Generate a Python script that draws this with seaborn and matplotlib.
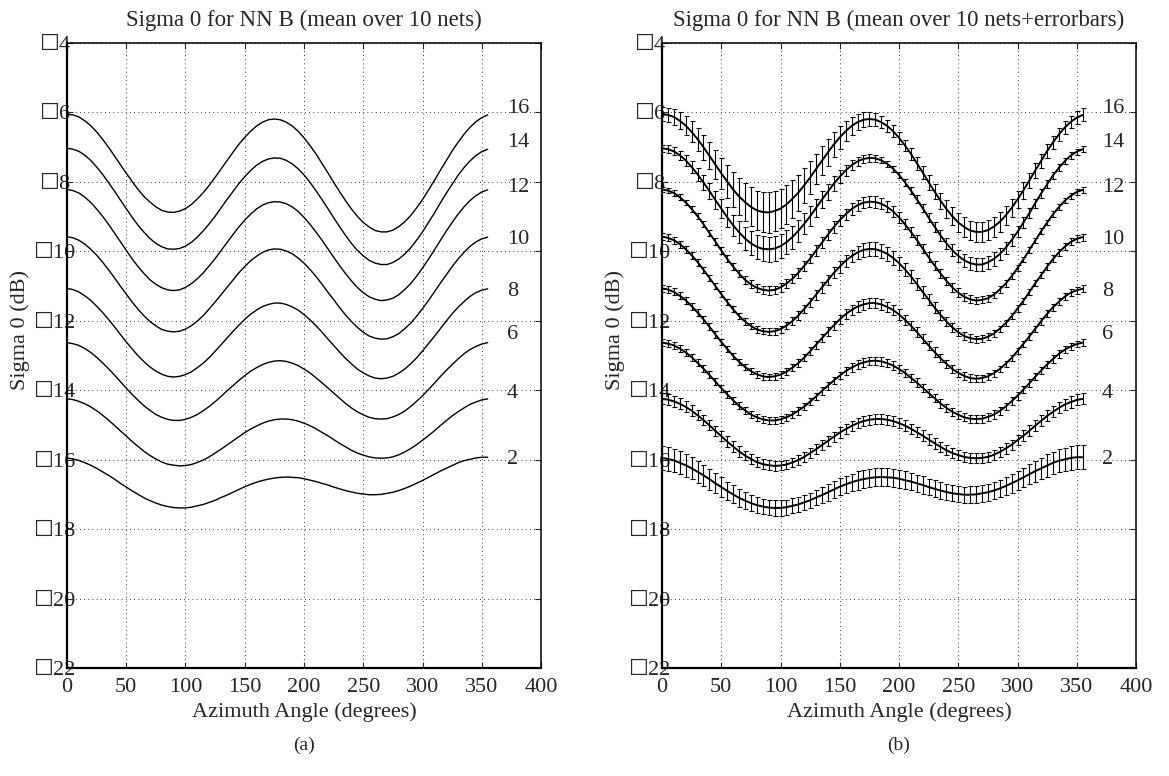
import numpy as np
import pandas as pd
import matplotlib
matplotlib.use('Agg')
import matplotlib.pyplot as plt
import seaborn as sns

#------------------------DATA (dB)----------------------------------------------------------------
speeds = [2, 4, 6, 8, 10, 12, 14, 16]
azimuth = list(range(0, 360, 5))

mean_2 = [-15.95, -15.98, -16.02, -16.09, -16.16, -16.25, -16.35, -16.45, -16.56, -16.68, -16.79, -16.90,
          -17.00, -17.10, -17.18, -17.25, -17.31, -17.35, -17.38, -17.39, -17.39, -17.37, -17.33, -17.29,
          -17.23, -17.17, -17.09, -17.02, -16.94, -16.86, -16.78, -16.71, -16.65, -16.60, -16.56, -16.53,
          -16.51, -16.50, -16.51, -16.52, -16.55, -16.59, -16.63, -16.68, -16.73, -16.79, -16.84, -16.89,
          -16.93, -16.97, -16.99, -17.01, -17.01, -17.00, -16.97, -16.94, -16.89, -16.83, -16.76, -16.68,
          -16.60, -16.51, -16.42, -16.33, -16.25, -16.17, -16.09, -16.03, -15.99, -15.95, -15.93, -15.93]
mean_4 = [-14.25, -14.27, -14.32, -14.39, -14.48, -14.59, -14.72, -14.86, -15.01, -15.17, -15.32, -15.48,
          -15.62, -15.76, -15.88, -15.98, -16.07, -16.13, -16.16, -16.18, -16.17, -16.14, -16.08, -16.01,
          -15.92, -15.81, -15.70, -15.58, -15.46, -15.34, -15.22, -15.12, -15.03, -14.95, -14.89, -14.85,
          -14.83, -14.83, -14.85, -14.89, -14.95, -15.02, -15.11, -15.21, -15.31, -15.42, -15.53, -15.63,
          -15.73, -15.81, -15.87, -15.92, -15.95, -15.96, -15.95, -15.92, -15.86, -15.78, -15.68, -15.57,
          -15.44, -15.31, -15.17, -15.02, -14.88, -14.74, -14.62, -14.51, -14.41, -14.34, -14.28, -14.25]
mean_6 = [-12.63, -12.66, -12.71, -12.80, -12.91, -13.05, -13.21, -13.38, -13.56, -13.75, -13.94, -14.12,
          -14.29, -14.45, -14.58, -14.70, -14.78, -14.84, -14.87, -14.87, -14.84, -14.78, -14.70, -14.59,
          -14.47, -14.33, -14.18, -14.02, -13.87, -13.72, -13.58, -13.45, -13.35, -13.26, -13.20, -13.16,
          -13.15, -13.17, -13.22, -13.29, -13.39, -13.50, -13.64, -13.78, -13.93, -14.08, -14.23, -14.38,
          -14.51, -14.62, -14.71, -14.78, -14.82, -14.83, -14.82, -14.77, -14.70, -14.60, -14.47, -14.32,
          -14.16, -13.98, -13.80, -13.61, -13.43, -13.26, -13.10, -12.95, -12.83, -12.74, -12.67, -12.63]
mean_8 = [-11.07, -11.10, -11.17, -11.28, -11.41, -11.58, -11.76, -11.96, -12.17, -12.39, -12.61, -12.81,
          -13.01, -13.18, -13.33, -13.45, -13.54, -13.60, -13.62, -13.60, -13.55, -13.47, -13.35, -13.22,
          -13.06, -12.88, -12.69, -12.50, -12.31, -12.13, -11.96, -11.81, -11.69, -11.59, -11.53, -11.49,
          -11.49, -11.53, -11.60, -11.69, -11.82, -11.97, -12.14, -12.32, -12.52, -12.71, -12.90, -13.08,
          -13.24, -13.39, -13.50, -13.59, -13.65, -13.67, -13.65, -13.60, -13.51, -13.39, -13.24, -13.07,
          -12.87, -12.66, -12.45, -12.23, -12.01, -11.80, -11.61, -11.45, -11.30, -11.19, -11.12, -11.08]
mean_10 = [-9.58, -9.61, -9.68, -9.79, -9.94, -10.11, -10.31, -10.53, -10.76, -11.00, -11.23, -11.46,
           -11.67, -11.86, -12.02, -12.15, -12.25, -12.30, -12.32, -12.30, -12.24, -12.14, -12.01, -11.85,
           -11.66, -11.46, -11.25, -11.04, -10.83, -10.62, -10.44, -10.27, -10.14, -10.03, -9.96, -9.93,
           -9.94, -9.99, -10.07, -10.19, -10.34, -10.52, -10.72, -10.94, -11.17, -11.39, -11.62, -11.83,
           -12.02, -12.19, -12.33, -12.44, -12.50, -12.53, -12.52, -12.46, -12.37, -12.23, -12.07, -11.87,
           -11.65, -11.42, -11.17, -10.92, -10.68, -10.44, -10.22, -10.03, -9.86, -9.73, -9.64, -9.59]
mean_12 = [-8.22, -8.25, -8.32, -8.44, -8.59, -8.78, -8.99, -9.22, -9.47, -9.72, -9.97, -10.22,
           -10.44, -10.64, -10.82, -10.95, -11.05, -11.11, -11.13, -11.11, -11.04, -10.93, -10.79, -10.62,
           -10.42, -10.21, -9.98, -9.75, -9.52, -9.30, -9.10, -8.93, -8.78, -8.67, -8.60, -8.57,
           -8.58, -8.63, -8.72, -8.85, -9.02, -9.22, -9.44, -9.67, -9.92, -10.17, -10.41, -10.64,
           -10.85, -11.04, -11.19, -11.31, -11.38, -11.42, -11.40, -11.35, -11.25, -11.10, -10.93, -10.72,
           -10.48, -10.23, -9.96, -9.69, -9.42, -9.17, -8.93, -8.72, -8.54, -8.40, -8.29, -8.23]
mean_14 = [-7.03, -7.06, -7.12, -7.23, -7.38, -7.57, -7.78, -8.02, -8.26, -8.52, -8.77, -9.02,
           -9.25, -9.45, -9.63, -9.77, -9.87, -9.93, -9.94, -9.92, -9.85, -9.74, -9.59, -9.41,
           -9.21, -8.99, -8.75, -8.51, -8.28, -8.05, -7.85, -7.67, -7.52, -7.41, -7.34, -7.31,
           -7.32, -7.38, -7.48, -7.62, -7.80, -8.01, -8.25, -8.50, -8.76, -9.03, -9.29, -9.54,
           -9.77, -9.97, -10.13, -10.26, -10.34, -10.38, -10.38, -10.32, -10.22, -10.08, -9.90, -9.68,
           -9.44, -9.17, -8.90, -8.61, -8.33, -8.07, -7.81, -7.59, -7.40, -7.24, -7.13, -7.06]
mean_16 = [-6.05, -6.07, -6.13, -6.24, -6.38, -6.56, -6.77, -7.00, -7.25, -7.50, -7.75, -7.99,
           -8.22, -8.42, -8.58, -8.72, -8.82, -8.87, -8.88, -8.84, -8.77, -8.65, -8.49, -8.31,
           -8.10, -7.87, -7.63, -7.39, -7.15, -6.92, -6.72, -6.54, -6.39, -6.28, -6.21, -6.19,
           -6.21, -6.28, -6.39, -6.54, -6.73, -6.95, -7.19, -7.46, -7.73, -8.01, -8.28, -8.54,
           -8.78, -8.99, -9.17, -9.30, -9.40, -9.44, -9.44, -9.39, -9.29, -9.15, -8.97, -8.75,
           -8.51, -8.24, -7.96, -7.67, -7.39, -7.11, -6.86, -6.63, -6.43, -6.27, -6.15, -6.07]

# half length of the error bars (dB), panel (b)
err_2 = [0.34, 0.34, 0.34, 0.33, 0.33, 0.32, 0.31, 0.30, 0.30, 0.29, 0.28, 0.27, 0.26, 0.25, 0.24, 0.24, 0.23, 0.22,
         0.22, 0.22, 0.22, 0.21, 0.22, 0.22, 0.22, 0.22, 0.23, 0.23, 0.24, 0.24, 0.25, 0.25, 0.25, 0.26, 0.26, 0.26,
         0.26, 0.26, 0.26, 0.26, 0.26, 0.26, 0.25, 0.25, 0.25, 0.24, 0.24, 0.24, 0.24, 0.23, 0.23, 0.23, 0.24, 0.24,
         0.24, 0.24, 0.25, 0.25, 0.26, 0.27, 0.28, 0.28, 0.29, 0.30, 0.31, 0.32, 0.32, 0.33, 0.33, 0.34, 0.34, 0.34]
err_4 = [0.16, 0.16, 0.16, 0.16, 0.16, 0.16, 0.15, 0.15, 0.15, 0.15, 0.15, 0.15, 0.15, 0.15, 0.14, 0.14, 0.14, 0.14,
         0.14, 0.14, 0.14, 0.14, 0.14, 0.14, 0.14, 0.14, 0.14, 0.14, 0.14, 0.14, 0.15, 0.15, 0.15, 0.15, 0.15, 0.15,
         0.15, 0.15, 0.15, 0.15, 0.15, 0.15, 0.15, 0.15, 0.15, 0.15, 0.15, 0.15, 0.15, 0.15, 0.15, 0.15, 0.15, 0.15,
         0.15, 0.15, 0.15, 0.15, 0.15, 0.15, 0.15, 0.16, 0.16, 0.16, 0.16, 0.16, 0.16, 0.16, 0.16, 0.16, 0.16, 0.16]
err_6 = [0.10, 0.10, 0.10, 0.10, 0.10, 0.10, 0.10, 0.10, 0.10, 0.10, 0.10, 0.10, 0.10, 0.10, 0.10, 0.10, 0.10, 0.10,
         0.10, 0.10, 0.10, 0.10, 0.10, 0.11, 0.11, 0.11, 0.11, 0.11, 0.11, 0.11, 0.11, 0.11, 0.12, 0.12, 0.12, 0.12,
         0.12, 0.12, 0.12, 0.12, 0.12, 0.12, 0.12, 0.12, 0.12, 0.12, 0.12, 0.12, 0.12, 0.12, 0.12, 0.12, 0.12, 0.12,
         0.12, 0.12, 0.12, 0.12, 0.11, 0.11, 0.11, 0.11, 0.11, 0.11, 0.11, 0.11, 0.11, 0.11, 0.10, 0.10, 0.10, 0.10]
err_8 = [0.10, 0.10, 0.10, 0.10, 0.10, 0.10, 0.10, 0.10, 0.10, 0.10, 0.09, 0.09, 0.09, 0.09, 0.09, 0.09, 0.10, 0.10,
         0.10, 0.10, 0.10, 0.10, 0.10, 0.11, 0.11, 0.11, 0.11, 0.12, 0.12, 0.13, 0.13, 0.14, 0.14, 0.15, 0.15, 0.15,
         0.15, 0.15, 0.15, 0.15, 0.15, 0.14, 0.14, 0.14, 0.13, 0.13, 0.13, 0.12, 0.12, 0.12, 0.11, 0.11, 0.11, 0.10,
         0.10, 0.10, 0.10, 0.10, 0.09, 0.09, 0.09, 0.09, 0.09, 0.09, 0.10, 0.10, 0.10, 0.10, 0.10, 0.10, 0.10, 0.10]
err_10 = [0.10, 0.10, 0.10, 0.10, 0.10, 0.10, 0.10, 0.09, 0.09, 0.09, 0.09, 0.09, 0.09, 0.09, 0.09, 0.09, 0.09, 0.09,
          0.10, 0.10, 0.10, 0.10, 0.11, 0.12, 0.12, 0.13, 0.14, 0.15, 0.15, 0.16, 0.17, 0.17, 0.18, 0.19, 0.19, 0.20,
          0.20, 0.20, 0.20, 0.19, 0.19, 0.19, 0.18, 0.17, 0.17, 0.16, 0.15, 0.15, 0.14, 0.13, 0.12, 0.12, 0.11, 0.10,
          0.10, 0.10, 0.09, 0.09, 0.09, 0.09, 0.09, 0.09, 0.09, 0.09, 0.09, 0.09, 0.10, 0.10, 0.10, 0.10, 0.10, 0.10]
err_12 = [0.08, 0.08, 0.08, 0.08, 0.08, 0.09, 0.09, 0.09, 0.09, 0.09, 0.10, 0.10, 0.10, 0.10, 0.11, 0.11, 0.11, 0.12,
          0.12, 0.12, 0.13, 0.13, 0.13, 0.14, 0.14, 0.14, 0.15, 0.15, 0.15, 0.16, 0.16, 0.16, 0.16, 0.16, 0.16, 0.16,
          0.16, 0.16, 0.16, 0.16, 0.15, 0.15, 0.15, 0.14, 0.14, 0.14, 0.13, 0.13, 0.12, 0.12, 0.12, 0.11, 0.11, 0.10,
          0.10, 0.10, 0.09, 0.09, 0.09, 0.09, 0.08, 0.08, 0.08, 0.08, 0.08, 0.08, 0.08, 0.08, 0.08, 0.08, 0.08, 0.08]
err_14 = [0.10, 0.11, 0.12, 0.13, 0.15, 0.17, 0.19, 0.21, 0.23, 0.25, 0.27, 0.29, 0.30, 0.32, 0.33, 0.35, 0.35, 0.36,
          0.36, 0.36, 0.35, 0.35, 0.33, 0.32, 0.30, 0.29, 0.27, 0.25, 0.23, 0.21, 0.19, 0.17, 0.15, 0.13, 0.12, 0.11,
          0.10, 0.09, 0.09, 0.09, 0.09, 0.10, 0.10, 0.11, 0.12, 0.13, 0.14, 0.15, 0.16, 0.17, 0.17, 0.18, 0.19, 0.19,
          0.19, 0.19, 0.19, 0.18, 0.17, 0.17, 0.16, 0.15, 0.14, 0.13, 0.12, 0.11, 0.10, 0.10, 0.09, 0.09, 0.09, 0.09]
err_16 = [0.20, 0.21, 0.23, 0.25, 0.28, 0.30, 0.33, 0.36, 0.39, 0.42, 0.45, 0.48, 0.50, 0.53, 0.54, 0.56, 0.57, 0.58,
          0.58, 0.58, 0.57, 0.56, 0.54, 0.52, 0.50, 0.47, 0.44, 0.41, 0.38, 0.35, 0.32, 0.29, 0.27, 0.24, 0.22, 0.20,
          0.19, 0.18, 0.17, 0.17, 0.17, 0.17, 0.18, 0.19, 0.20, 0.21, 0.22, 0.23, 0.25, 0.26, 0.27, 0.28, 0.28, 0.29,
          0.29, 0.29, 0.29, 0.28, 0.27, 0.26, 0.25, 0.24, 0.23, 0.22, 0.20, 0.19, 0.19, 0.18, 0.18, 0.18, 0.18, 0.19]

means = [mean_2, mean_4, mean_6, mean_8, mean_10, mean_12, mean_14, mean_16]
errors = [err_2, err_4, err_6, err_8, err_10, err_12, err_14, err_16]

# wind speed labels at the right end of the curves
label_x = 371
label_y = [-16.0, -14.1, -12.4, -11.17, -9.65, -8.15, -6.88, -5.9]
yticks = list(range(-22, -3, 2))
xticks = list(range(0, 401, 50))
#-------------------------------------------------------------------------------------------------

df = pd.DataFrame({'speed': np.repeat(speeds, len(azimuth)),
                   'az': azimuth * len(speeds),
                   'sigma': np.concatenate(means)})

sns.set_style('ticks')
plt.rcParams['font.family'] = ['Liberation Serif', 'DejaVu Sans']
plt.rcParams['font.size'] = 16

fig = plt.figure(figsize=(11.69, 7.76), dpi=100)
ax1 = fig.add_axes([0.0573, 0.1392, 0.4055, 0.8054])
ax2 = fig.add_axes([0.5663, 0.1392, 0.4055, 0.8054])

sns.lineplot(data=df, x='az', y='sigma', hue='speed', palette=['k'] * 8, legend=False,
             ax=ax1, lw=1.0, errorbar=None)
sns.lineplot(data=df, x='az', y='sigma', hue='speed', palette=['k'] * 8, legend=False,
             ax=ax2, lw=1.4, errorbar=None)
for m, e in zip(means, errors):
    ax2.errorbar(azimuth, m, yerr=e, fmt='none', ecolor='k', elinewidth=0.8, capsize=1.8, capthick=0.8)

for ax, title, tag in [(ax1, 'Sigma 0 for NN B (mean over 10 nets)', '(a)'),
                       (ax2, 'Sigma 0 for NN B (mean over 10 nets+errorbars)', '(b)')]:
    ax.set_xlim(0, 400)
    ax.set_ylim(-22, -4)
    ax.set_xticks(xticks)
    ax.set_yticks(yticks)
    ax.set_yticklabels(['\u2610%d' % abs(v) for v in yticks], ha='center')
    ax.tick_params(direction='in', top=True, right=True, length=4, width=0.8)
    ax.tick_params(axis='y', pad=9)
    ax.tick_params(axis='x', pad=7)
    ax.grid(True, linestyle=(0, (1, 4)), color='k', linewidth=0.6)
    for sp in ax.spines.values():
        sp.set_linewidth(1.1)
        sp.set_color('k')
    ax.spines['left'].set_linewidth(1.6)
    ax.spines['bottom'].set_linewidth(1.6)
    ax.set_title(title, fontsize=16.5, pad=12)
    ax.set_xlabel('Azimuth Angle (degrees)', labelpad=4)
    ax.set_ylabel('Sigma 0 (dB)')
    ax.yaxis.set_label_coords(-0.078, 0.54)
    for s, ly in zip(speeds, label_y):
        ax.text(label_x, ly, str(s), ha='left', va='center', fontsize=16)
    pos = ax.get_position()
    fig.text((pos.x0 + pos.x1) / 2, 1 - 745 / 776, tag, ha='center', va='center', fontsize=14)

fig.savefig('out.png', dpi=100)
